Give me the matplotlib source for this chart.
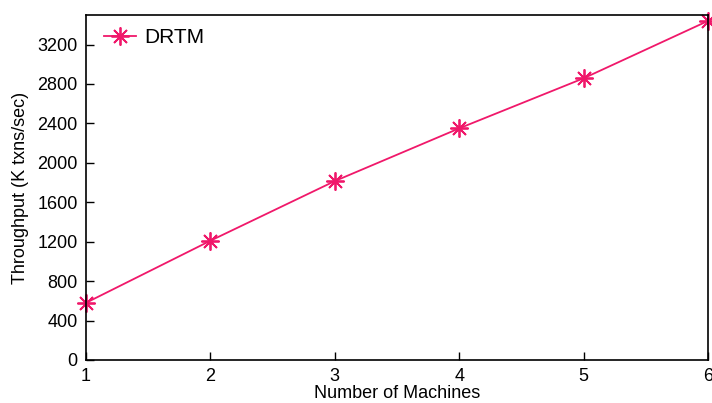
import matplotlib.pyplot as plt

# values
machines = [1, 2, 3, 4, 5, 6]
throughput = [580, 1210, 1815, 2350, 2858, 3440]
yticks = [0, 400, 800, 1200, 1600, 2000, 2400, 2800, 3200]

plt.rcParams['font.family'] = ['Liberation Sans', 'DejaVu Sans']

fig = plt.figure(figsize=(7.12, 4.03), dpi=100)
ax = fig.add_axes([0.1208, 0.1067, 0.8736, 0.8561])

ax.plot(machines, throughput, color='#F0186A', linewidth=1.3,
        marker=(8, 2, 0), markersize=13, markeredgewidth=1.3,
        label='DRTM', clip_on=False)

ax.set_xlim(1, 6)
ax.set_ylim(0, 3500)
ax.set_xticks(machines)
ax.set_yticks(yticks)
ax.tick_params(direction='in', length=6, width=1, labelsize=13, pad=6)
for s in ax.spines.values():
    s.set_linewidth(1.2)

ax.set_xlabel('Number of Machines', fontsize=13, labelpad=0)
ax.set_ylabel('Throughput (K txns/sec)', fontsize=13, labelpad=6)

ax.legend(loc='upper left', bbox_to_anchor=(0, 1.013), frameon=False,
          fontsize=15, handlelength=1.55, borderaxespad=0.45,
          handletextpad=0.4)

fig.savefig('out.png', dpi=100)
